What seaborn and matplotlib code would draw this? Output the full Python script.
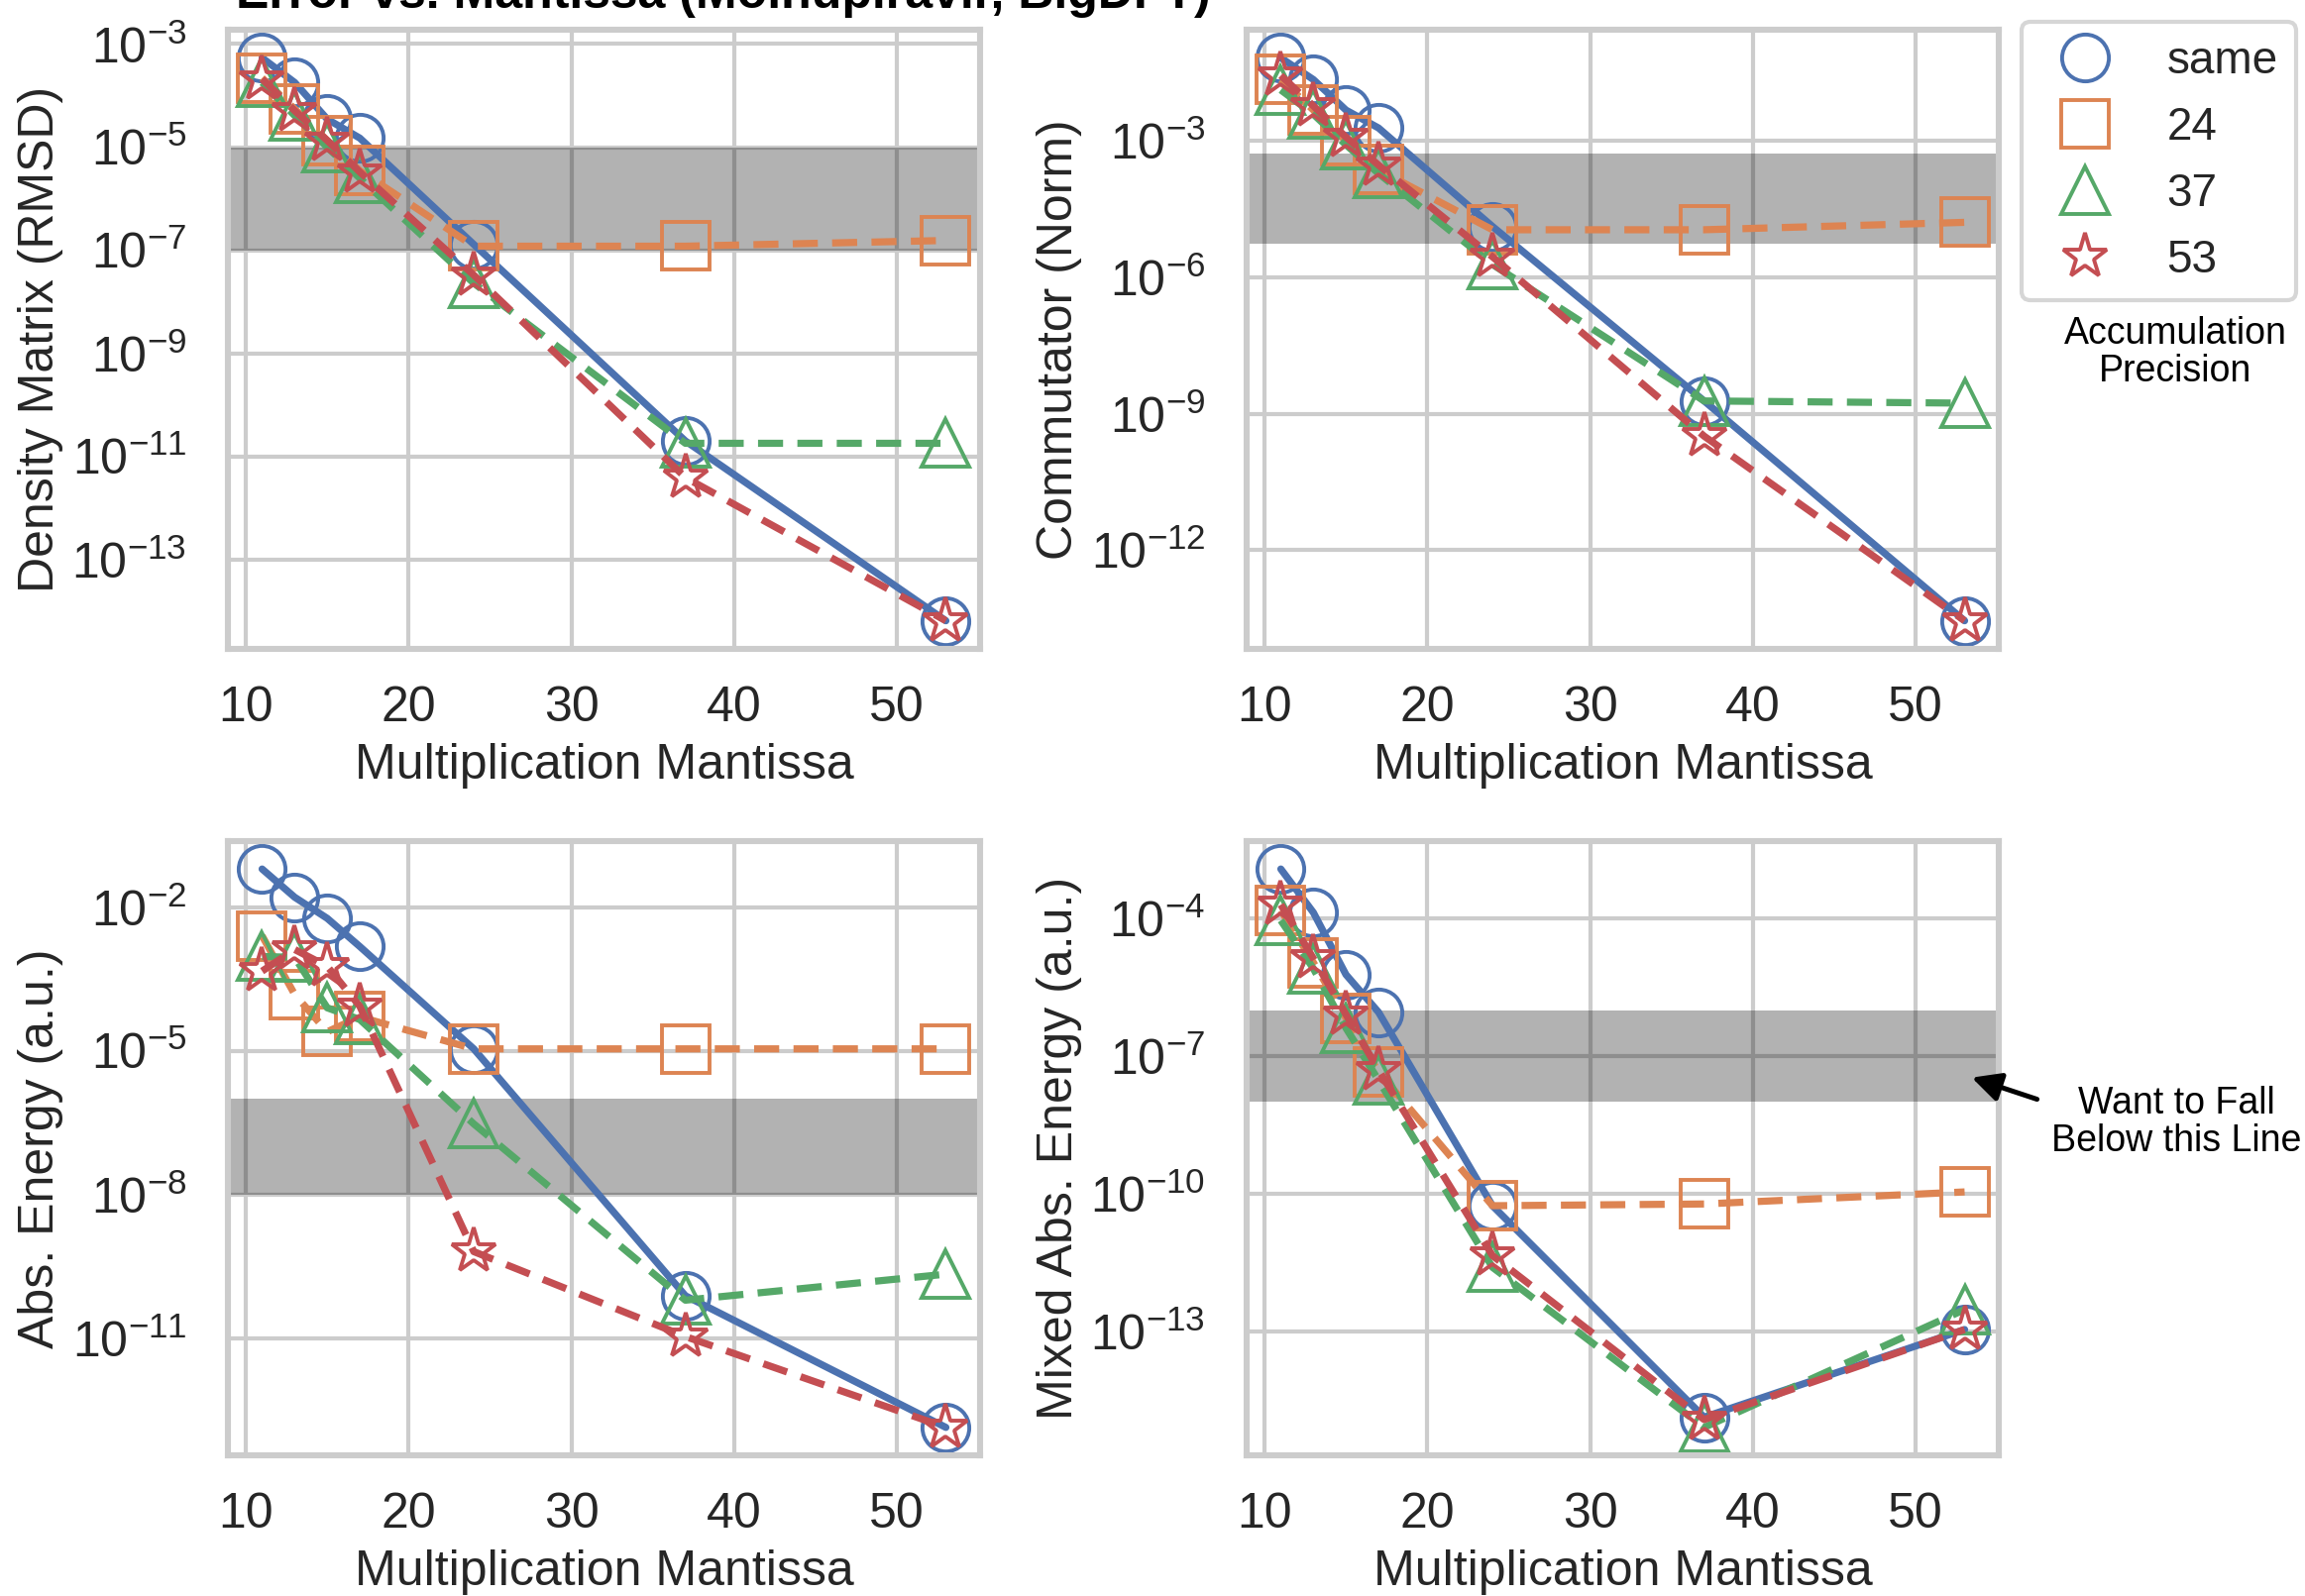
import numpy as np
import pandas as pd
import matplotlib
matplotlib.use("Agg")
import matplotlib.pyplot as plt
from matplotlib.lines import Line2D
from matplotlib.ticker import NullLocator
import seaborn as sns

# ---------------- data ----------------
mantissa = [11, 13, 15, 17, 24, 37, 53]
accum_levels = ["same", "24", "37", "53"]

density_same = [5.4e-4, 1.8e-4, 3.5e-5, 1.5e-5, 1.3e-7, 2.0e-11, 6.5e-15]
density_24 = [2.2e-4, 5.5e-5, 1.35e-5, 3.5e-6, 1.2e-7, 1.2e-7, 1.55e-7]
density_37 = [1.8e-4, 4.1e-5, 1.0e-5, 2.5e-6, 2.3e-8, 1.8e-11, 1.8e-11]
density_53 = [2.1e-4, 5.1e-5, 1.35e-5, 3.3e-6, 3.3e-8, 3.9e-12, 6.5e-15]

comm_same = [6.6e-2, 2.2e-2, 4.7e-3, 1.9e-3, 1.3e-5, 1.9e-9, 2.8e-14]
comm_24 = [2.2e-2, 4.7e-3, 1.0e-3, 2.3e-4, 1.1e-5, 1.1e-5, 1.6e-5]
comm_37 = [1.3e-2, 3.8e-3, 8.1e-4, 1.9e-4, 1.9e-6, 1.9e-9, 1.7e-9]
comm_53 = [2.7e-2, 5.8e-3, 1.2e-3, 2.9e-4, 2.8e-6, 3.2e-10, 2.8e-14]

energy_same = [6.2e-2, 1.6e-2, 5.8e-3, 1.5e-3, 1.1e-5, 7.8e-11, 1.4e-13]
energy_24 = [2.5e-3, 1.5e-4, 2.5e-5, 5.1e-5, 1.1e-5, 1.1e-5, 1.1e-5]
energy_37 = [9.3e-4, 8.9e-4, 7.9e-5, 4.5e-5, 3.0e-7, 6.3e-11, 2.2e-10]
energy_53 = [4.6e-4, 1.3e-3, 5.8e-4, 8.5e-5, 6.5e-10, 1.1e-11, 1.4e-13]

mixed_same = [1.2e-3, 1.35e-4, 6.0e-6, 9.1e-7, 5.5e-11, 1.35e-15, 1.1e-13]
mixed_24 = [1.5e-4, 1.1e-5, 6.8e-7, 4.5e-8, 5.5e-11, 6.0e-11, 1.1e-10]
mixed_37 = [9.1e-5, 8.1e-6, 4.1e-7, 3.0e-8, 2.5e-12, 8.1e-16, 3.0e-13]
mixed_53 = [2.0e-4, 1.35e-5, 8.1e-7, 5.0e-8, 4.5e-12, 1.2e-15, 1.1e-13]

panel_titles = ["Density Matrix (RMSD)", "Commutator (Norm)",
                "Abs. Energy (a.u.)", "Mixed Abs. Energy (a.u.)"]
panel_series = [
    [density_same, density_24, density_37, density_53],
    [comm_same, comm_24, comm_37, comm_53],
    [energy_same, energy_24, energy_37, energy_53],
    [mixed_same, mixed_24, mixed_37, mixed_53],
]
# target bands (lower, upper)
bands = [(1e-7, 1e-5), (5.3e-6, 5.3e-4), (1e-8, 1e-6), (1e-8, 1e-6)]
yticks = [
    [1e-3, 1e-5, 1e-7, 1e-9, 1e-11, 1e-13],
    [1e-3, 1e-6, 1e-9, 1e-12],
    [1e-2, 1e-5, 1e-8, 1e-11],
    [1e-4, 1e-7, 1e-10, 1e-13],
]
xticks = [10, 20, 30, 40, 50]

# ---------------- style ----------------
sns.set_theme(style="whitegrid", context="talk")
plt.rcParams["font.family"] = ["Liberation Sans", "DejaVu Sans"]
plt.rcParams["xtick.major.pad"] = 4.5
plt.rcParams["ytick.major.pad"] = 6

palette = dict(zip(accum_levels, sns.color_palette("deep", 4)))
markers = {"same": "o", "24": "s", "37": "^", "53": "*"}
dashes = {"same": "", "24": (3.5, 2.0), "37": (3.5, 2.0), "53": (3.5, 2.0)}

W, H = 2326, 1611
fig = plt.figure(figsize=(W / 200, H / 200), dpi=200)

def px_axes(l, t, r, b):
    return fig.add_axes([l / W, 1 - b / H, (r - l) / W, (b - t) / H])

axes = [
    px_axes(230, 30, 989, 655),
    px_axes(1258, 30, 2017, 655),
    px_axes(230, 849, 989, 1469),
    px_axes(1258, 849, 2017, 1469),
]

for ax, series, ylab, band, yt in zip(axes, panel_series, panel_titles, bands, yticks):
    rows = []
    for lvl, vals in zip(accum_levels, series):
        for m, v in zip(mantissa, vals):
            rows.append({"Multiplication Mantissa": m, "value": v, "accum": lvl})
    df = pd.DataFrame(rows)
    ax.axhspan(band[0], band[1], color="black", alpha=0.3, lw=0, zorder=1)
    sns.lineplot(data=df, x="Multiplication Mantissa", y="value", hue="accum",
                 style="accum", hue_order=accum_levels, style_order=accum_levels,
                 palette=palette, markers=markers, dashes=dashes,
                 markersize=17, linewidth=2.6, legend=False, ax=ax, zorder=2)
    for line in ax.lines:
        c = line.get_color()
        line.set_markerfacecolor("none")
        line.set_markeredgecolor(c)
        line.set_markeredgewidth(1.4)
    ax.set_yscale("log")
    ax.set_yticks(yt)
    ax.yaxis.set_minor_locator(NullLocator())
    ax.set_xticks(xticks)
    ax.set_ylabel(ylab, fontsize=18, labelpad=3)
    ax.set_xlabel("Multiplication Mantissa", fontsize=18)
    ax.tick_params(labelsize=18)
    for s in ax.spines.values():
        s.set_color("#cccccc")
        s.set_linewidth(2.2)

# legend
handles = [Line2D([], [], linestyle="none", marker=markers[l], markersize=17,
                  markerfacecolor="none", markeredgecolor=palette[l],
                  markeredgewidth=1.4) for l in accum_levels]
fig.legend(handles, accum_levels, loc="upper left",
           bbox_to_anchor=(2040 / W, 1 - 22 / H), borderaxespad=0, fontsize=16.5,
           handlelength=2.0, handletextpad=0.8, labelspacing=0.5,
           borderpad=0.4, frameon=True)

fig.text(2195 / W, 1 - 356 / H, "Accumulation\nPrecision", ha="center", va="center",
         fontsize=13.5, linespacing=1.1, color="black")

axes[3].annotate("Want to Fall\nBelow this Line", xy=(0.964, 0.615), xycoords="axes fraction",
                 xytext=(2196 / W, 1 - 1133 / H), textcoords="figure fraction",
                 ha="center", va="center", fontsize=13.5, linespacing=1.1, color="black",
                 arrowprops=dict(arrowstyle="-|>", color="black", lw=1.8,
                                 mutation_scale=22, relpos=(0.0, 0.75), shrinkA=3, shrinkB=0))

fig.text(730 / W, 1 - 8 / H, "Error vs. Mantissa (Molnupiravir, BigDFT)",
         ha="center", va="baseline", fontsize=18, fontweight="bold", color="black")

fig.savefig("out.png", dpi=200)
